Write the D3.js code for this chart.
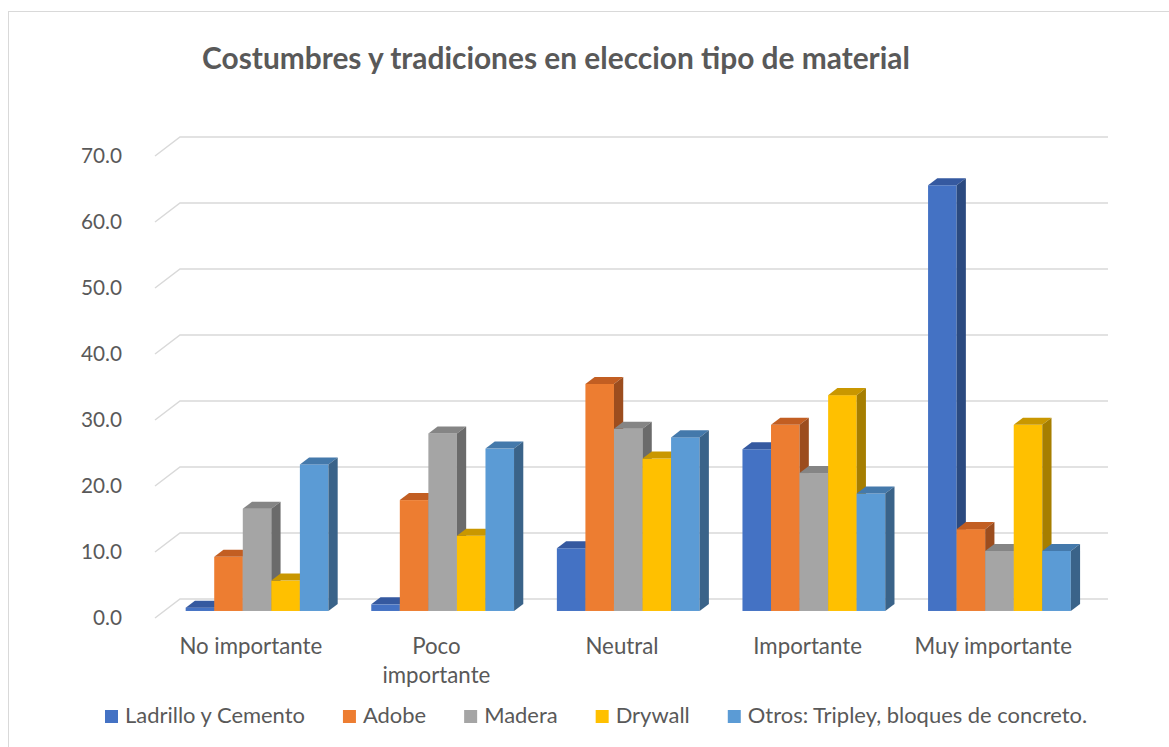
<!DOCTYPE html>
<html><head><meta charset="utf-8">
<script src="https://cdn.jsdelivr.net/npm/d3@7"></script>
<style>
body{margin:0;background:#fff}
svg{display:block}
text{font-family:Lato,"Open Sans",sans-serif;fill:#595959}
</style>
</head><body><svg id="c" width="1169" height="747"></svg>
<script>
// ---- data ----
const categories = ["No importante","Poco importante","Neutral","Importante","Muy importante"];
const categoryTickLabels = [["No importante"],["Poco","importante"],["Neutral"],["Importante"],["Muy importante"]];
const seriesNames = ["Ladrillo y Cemento","Adobe","Madera","Drywall","Otros: Tripley, bloques de concreto."];
const ladrillo = [0.5, 1.0, 9.5, 24.5, 64.5];
const adobe    = [8.2, 16.8, 34.4, 28.2, 12.4];
const madera   = [15.5, 26.9, 27.6, 20.9, 9.1];
const drywall  = [4.6, 11.4, 23.1, 32.7, 28.2];
const otros    = [22.2, 24.6, 26.3, 17.8, 9.1];
const yTicks = [0,10,20,30,40,50,60,70];
const title = "Costumbres y tradiciones en eleccion tipo de material";

const seriesValues = [ladrillo, adobe, madera, drywall, otros];
const frontColors = ["#4472C4","#ED7D31","#A5A5A5","#FFC000","#5B9BD5"];
const topColors   = ["#3559A0","#C25E22","#858585","#C99700","#4479AB"];
const sideColors  = ["#2B4A80","#9C4D1E","#6B6B6B","#A67E00","#3A6389"];

const svg = d3.select("#c");
const W = 1169, H = 747;

// chart border
svg.append("rect").attr("x",8.5).attr("y",11.5).attr("width",1175).attr("height",760)
  .attr("fill","none").attr("stroke","#d9d9d9").attr("stroke-width",1);

// geometry
const depthX = 25, depthY = 19;
const f1 = 0.37, f2 = 0.74;
const y = d3.scaleLinear().domain([0,70]).range([618,156]);
const x0 = d3.scaleBand().domain(categories).range([155,1083]);
const x1 = d3.scaleBand().domain(seriesNames).range([0,x0.bandwidth()]).paddingInner(0).paddingOuter(0.75);

// gridlines (left wall + back wall)
const grid = svg.append("g");
yTicks.forEach(t=>{
  const yy = y(t);
  grid.append("path")
    .attr("d",`M155,${yy}L${155+depthX},${yy-depthY}L1108,${yy-depthY}`)
    .attr("fill","none").attr("stroke","#d9d9d9").attr("stroke-width",1.5);
});

// y axis labels
const fmt = d3.format(".1f");
const yl = svg.append("g");
yTicks.forEach(t=>{
  yl.append("text").attr("class","ylab").attr("x",122).attr("y",y(t)).attr("dy","0.35em")
    .attr("text-anchor","end").text(fmt(t));
});

// bars
const bx = depthX*f1, by = depthY*f1;
const ddx = depthX*(f2-f1), ddy = depthY*(f2-f1);
const bars = svg.append("g");
categories.forEach((c,i)=>{
  seriesNames.forEach((s,j)=>{
    const v = seriesValues[j][i];
    const x = x0(c)+x1(s)+bx, w = x1.bandwidth();
    const yb = y(0)-by, yt = y(v)-by;
    const g = bars.append("g");
    g.append("rect").attr("x",x).attr("y",yt).attr("width",w).attr("height",yb-yt).attr("fill",frontColors[j]);
    g.append("path").attr("d",`M${x},${yt}L${x+ddx},${yt-ddy}L${x+w+ddx},${yt-ddy}L${x+w},${yt}Z`).attr("fill",topColors[j]);
    g.append("path").attr("d",`M${x+w},${yt}L${x+w+ddx},${yt-ddy}L${x+w+ddx},${yb-ddy}L${x+w},${yb}Z`).attr("fill",sideColors[j]);
  });
});

// category labels
const cl = svg.append("g");
categories.forEach((c,i)=>{
  const cx = x0(c)+x0.bandwidth()/2+3;
  const t = cl.append("text").attr("class","clab").attr("text-anchor","middle");
  categoryTickLabels[i].forEach((line,k)=>{
    t.append("tspan").attr("x",cx).attr("y",654+k*29).text(line);
  });
});

// title
svg.append("text").attr("class","title").attr("x",556).attr("y",69).attr("text-anchor","middle")
  .attr("font-weight","bold").text(title);

// fit font sizes to target widths
function fit(sel, refText, target, bold){
  const tmp = svg.append("text").attr("font-size",20).attr("font-weight",bold?"bold":null).text(refText);
  const wdt = tmp.node().getComputedTextLength();
  tmp.remove();
  const size = 20*target/wdt;
  sel.attr("font-size",size);
  return size;
}
fit(svg.selectAll(".title"), title, 708, true);
fit(svg.selectAll(".ylab"), "70.0", 41, false);
fit(svg.selectAll(".clab"), "No importante", 143, false);

// legend
const lg = svg.append("g");
const legSize = fit(d3.select(null), "Ladrillo y Cemento", 180, false);
let lx = 0;
const items = [];
seriesNames.forEach((s,j)=>{
  const it = lg.append("g");
  it.append("rect").attr("x",lx).attr("y",-13).attr("width",13).attr("height",13).attr("fill",frontColors[j]);
  const t = it.append("text").attr("x",lx+20).attr("y",0).attr("font-size",legSize).text(s);
  lx += 20 + t.node().getComputedTextLength() + 38;
});
const totalW = lx - 38;
lg.attr("transform",`translate(${105},723)`);
</script></body></html>
